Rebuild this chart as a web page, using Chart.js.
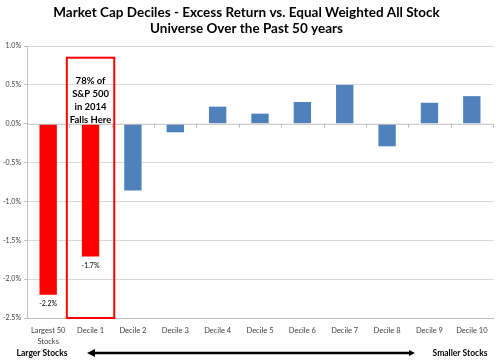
<!DOCTYPE html>
<html>
<head>
<meta charset="utf-8">
<script src="https://cdn.jsdelivr.net/npm/chart.js@4/dist/chart.umd.min.js"></script>
<style>
  html, body { margin: 0; padding: 0; background: #fff; }
  #wrap { width: 500px; height: 362px; }
</style>
</head>
<body>
<div id="wrap"><canvas id="decileChart" width="500" height="362"></canvas></div>
<script>
// Chart data
const categories = [
    ['Largest 50', 'Stocks'], 'Decile 1', 'Decile 2', 'Decile 3', 'Decile 4', 'Decile 5',
    'Decile 6', 'Decile 7', 'Decile 8', 'Decile 9', 'Decile 10'
];
const excessReturn = [-2.2, -1.71, -0.86, -0.11, 0.22, 0.13, 0.28, 0.5, -0.29, 0.27, 0.355];
const barColors = ['#FF0000', '#FF0000', '#4F81BD', '#4F81BD', '#4F81BD', '#4F81BD',
    '#4F81BD', '#4F81BD', '#4F81BD', '#4F81BD', '#4F81BD'];
const valueLabels = ['-2.2%', '-1.7%'];
const titleLines = ['Market Cap Deciles - Excess Return vs. Equal Weighted All Stock',
    'Universe Over the Past 50 years'];
const boxNote = ['78% of', 'S&P 500', 'in 2014', 'Falls Here'];

const FONT = "Lato, 'Liberation Sans', sans-serif";

// Draws the red box, labels, zero line ticks and the bottom arrow
const notesPlugin = {
    id: 'notes',
    afterDatasetsDraw(chart) {
        const ctx = chart.ctx;
        const x = chart.scales.x;
        const y = chart.scales.y;
        const area = chart.chartArea;
        const step = x.getPixelForValue(1) - x.getPixelForValue(0);
        const zero = y.getPixelForValue(0);

        ctx.save();
        // zero line with tick marks
        ctx.strokeStyle = '#BFBFBF';
        ctx.lineWidth = 1;
        ctx.beginPath();
        ctx.moveTo(area.left, zero + 0.5);
        ctx.lineTo(area.right, zero + 0.5);
        for (let i = 0; i <= categories.length; i++) {
            const px = Math.round(area.left + step * i) + 0.5;
            ctx.moveTo(px, zero);
            ctx.lineTo(px, zero + 4);
        }
        ctx.stroke();

        // value labels under the red bars
        ctx.fillStyle = '#000';
        ctx.font = '7px ' + FONT;
        ctx.textAlign = 'center';
        ctx.textBaseline = 'middle';
        valueLabels.forEach((lbl, i) => {
            const px = x.getPixelForValue(i);
            const py = y.getPixelForValue(excessReturn[i]) + 9;
            ctx.fillText(lbl, px, py);
        });

        // red box around Decile 1
        const cx = x.getPixelForValue(1);
        const left = cx - step * 0.56;
        const right = cx + step * 0.56;
        const top = y.getPixelForValue(0.85);
        ctx.strokeStyle = '#FF0000';
        ctx.lineWidth = 2;
        ctx.strokeRect(left, top, right - left, area.bottom - top);

        ctx.fillStyle = '#000';
        ctx.font = 'bold 9.5px ' + FONT;
        boxNote.forEach((line, i) => {
            ctx.fillText(line, cx, top + 23 + i * 13);
        });

        // bottom arrow and labels
        const ay = chart.height - 9;
        ctx.font = 'bold 8.5px ' + FONT;
        ctx.fillText('Larger Stocks', 42, ay);
        ctx.fillText('Smaller Stocks', 460, ay);
        const ax1 = 87, ax2 = 415;
        ctx.strokeStyle = '#000';
        ctx.lineWidth = 2.5;
        ctx.beginPath();
        ctx.moveTo(ax1 + 5, ay);
        ctx.lineTo(ax2 - 5, ay);
        ctx.stroke();
        ctx.fillStyle = '#000';
        ctx.beginPath();
        ctx.moveTo(ax1, ay);
        ctx.lineTo(ax1 + 8, ay - 4);
        ctx.lineTo(ax1 + 8, ay + 4);
        ctx.closePath();
        ctx.fill();
        ctx.beginPath();
        ctx.moveTo(ax2, ay);
        ctx.lineTo(ax2 - 6, ay - 3);
        ctx.lineTo(ax2 - 6, ay + 3);
        ctx.closePath();
        ctx.fill();
        ctx.restore();
    }
};

new Chart(document.getElementById('decileChart'), {
    type: 'bar',
    data: {
        labels: categories,
        datasets: [{
            data: excessReturn,
            backgroundColor: barColors,
            borderWidth: 0,
            categoryPercentage: 1,
            barPercentage: 0.41
        }]
    },
    options: {
        responsive: false,
        animation: false,
        layout: { padding: { left: 0, right: 7, top: 0, bottom: 4 } },
        plugins: {
            legend: { display: false },
            tooltip: { enabled: false },
            title: {
                display: true,
                text: titleLines,
                color: '#000',
                font: { family: FONT, size: 13.5, weight: 'bold', lineHeight: 1.15 },
                padding: { top: 5, bottom: 10 }
            }
        },
        scales: {
            y: {
                min: -2.5,
                max: 1.0,
                afterFit(scale) { scale.width = 27; },
                ticks: {
                    stepSize: 0.5,
                    color: '#404040',
                    font: { family: FONT, size: 7 },
                    padding: 3,
                    callback: v => v.toFixed(1) + '%'
                },
                grid: {
                    color: ctx => ctx.tick && ctx.tick.value === 0 ? 'rgba(0,0,0,0)' : '#D9D9D9',
                    tickLength: 3,
                    tickColor: '#BFBFBF'
                },
                border: { color: '#BFBFBF' }
            },
            x: {
                afterFit(scale) { scale.height = 40; },
                ticks: {
                    color: '#404040',
                    font: { family: FONT, size: 7.5, lineHeight: 1.45 },
                    maxRotation: 0,
                    autoSkip: false,
                    padding: 7
                },
                grid: { display: false, drawTicks: false },
                border: { color: '#BFBFBF' }
            }
        }
    },
    plugins: [notesPlugin]
});
</script>
</body>
</html>
